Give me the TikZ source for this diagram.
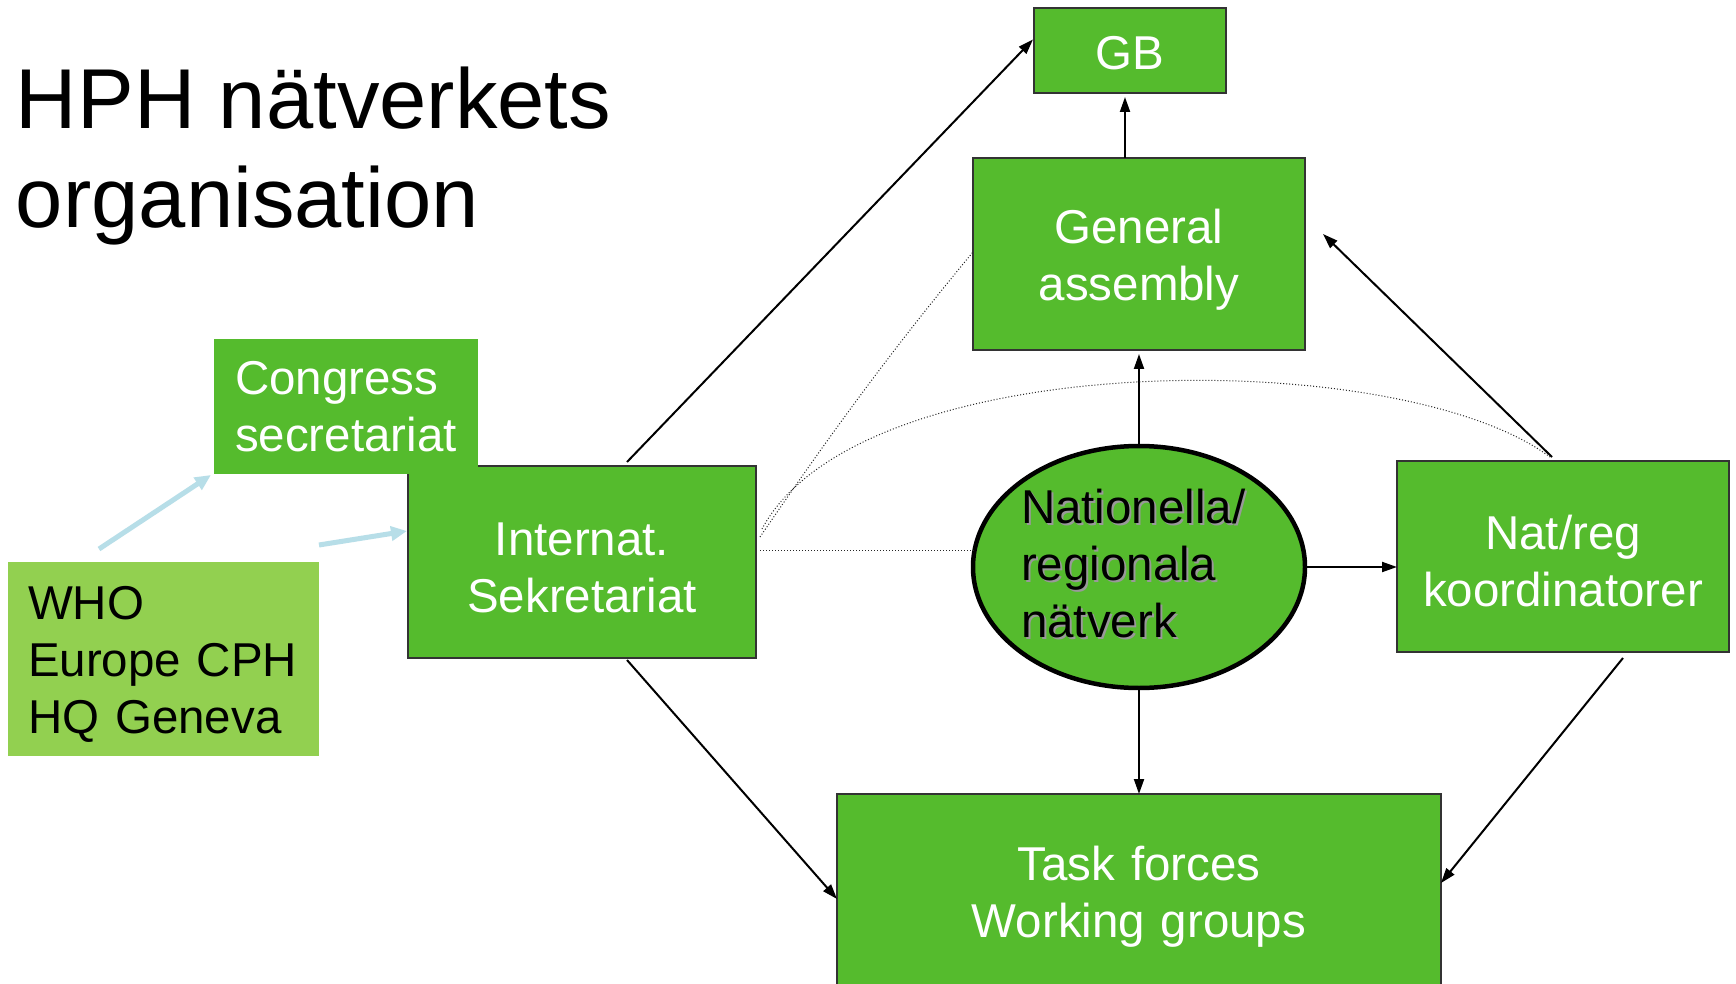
\documentclass[tikz,border=0pt]{standalone}
\usepackage{fontspec}
\setmainfont{Liberation Sans}
\usetikzlibrary{arrows.meta,calc,shapes.geometric}
\definecolor{boxgreen}{RGB}{85,187,45}
\definecolor{lightgreen}{RGB}{146,208,80}
\definecolor{paleblue}{RGB}{183,222,232}
\begin{document}
\begin{tikzpicture}[x=0.5pt,y=-0.5pt,
  every node/.style={inner sep=0pt,outer sep=0pt},
  txt/.style={font=\fontsize{23.75pt}{28.5pt}\selectfont},
  lowered/.style={execute at begin node={\rule{0pt}{#1}}},
  gbox/.style={txt,rectangle,fill=boxgreen,draw=black!80,line width=1pt,text=white,align=center},
  plainbox/.style={txt,rectangle,fill=boxgreen,text=white,align=left},
  arr/.style={line width=1pt,-{Triangle[length=7.5pt,width=5pt]}},
  bluearr/.style={draw=paleblue,line width=2.5pt,-{Triangle[length=8pt,width=7pt]}},
  dots/.style={densely dotted,line width=0.5pt,draw=black!85}]
\useasboundingbox (0,0) rectangle (1736,984);
\fill[white] (0,0) rectangle (1736,984);
% title
\node[anchor=base west,font=\fontsize{42.5pt}{50pt}\selectfont] (title1) at (16,129) {HPH nätverkets};
\node[anchor=base west,font=\fontsize{42.5pt}{50pt}\selectfont] (title2) at (16,228) {organisation};
% boxes
\node[gbox,lowered=19pt,minimum width=96pt,minimum height=42.5pt] (gb) at (1130,50.5) {GB};
\node[gbox,lowered=23pt,text width=160pt,minimum width=166pt,minimum height=96pt] (ga) at (1139,254) {General\\assembly};
\node[gbox,lowered=22pt,text width=168pt,minimum width=174pt,minimum height=96pt] (inter) at (582,562) {Internat.\\Sekretariat};
\node[plainbox,minimum width=132pt,minimum height=67.5pt,inner xsep=10.5pt,text width=111pt] (cong) at (346,406.5) {Congress\\secretariat};
\node[txt,lowered=21.5pt,rectangle,fill=lightgreen,text=black,align=left,minimum width=155.5pt,minimum height=97pt,inner xsep=10pt,text width=135.5pt] (who) at (163.5,659) {WHO\\Europe CPH\\HQ Geneva};
\node[ellipse,fill=boxgreen,draw=black,line width=2.25pt,minimum width=166pt,minimum height=121pt] (ell) at (1139,567) {};
\node[txt,anchor=west,align=left,text=black!40] (ellshadow) at (1023,565.5) {Nationella/\\regionala\\nätverk};
\node[txt,anchor=west,align=left,text=black] (elltext) at (1021,564) {Nationella/\\regionala\\nätverk};
\node[gbox,lowered=22pt,text width=162pt,minimum width=166pt,minimum height=95.5pt] (nat) at (1563,556.5) {Nat/reg\\koordinatorer};
\node[gbox,lowered=22pt,text width=296pt,minimum width=302pt,minimum height=98pt] (task) at (1139,892) {Task forces\\Working groups};
% arrows
\draw[arr] ($(inter.north)+(45,-4)$) -- ($(gb.west)+(-1,-11)$);
\draw[arr,shorten >=2pt] ($(ga.north)+(-14,0)$) -- ($(gb.south)+(-5,0)$);
\draw[arr,shorten >=2pt] (ell.north) -- (ga.south);
\draw[arr] ($(nat.north)+(-11,-4)$) -- ($(ga.east)+(18,-20)$);
\draw[arr] (ell.east) -- (ell.east -| nat.west);
\draw[arr] (ell.south) -- (task.north);
\draw[arr] ($(inter.south)+(45,2)$) -- ($(task.west)+(0,7)$);
\draw[arr] ($(nat.south)+(60,6)$) -- ($(task.east)+(0,-9)$);
\draw[bluearr] ($(who.north)+(-64.5,-13)$) -- ($(cong.south west)+(-3,1)$);
\draw[bluearr] ($(who.north east)+(0,-17)$) -- ($(inter.west)+(-1,-31)$);
% dotted links
\draw[dots] ($(inter.east)+(4,-12)$) -- ($(ell.west)+(1,-17)$);
\draw[dots] ($(inter.east)+(4,-25)$) .. controls (840,420) and (900,340) .. ($(ga.west)+(0,-2)$);
\draw[dots] ($(inter.east)+(6,-33)$) .. controls (860,345) and (1400,345) .. ($(nat.north)+(-13,-4)$);
\end{tikzpicture}
\end{document}
